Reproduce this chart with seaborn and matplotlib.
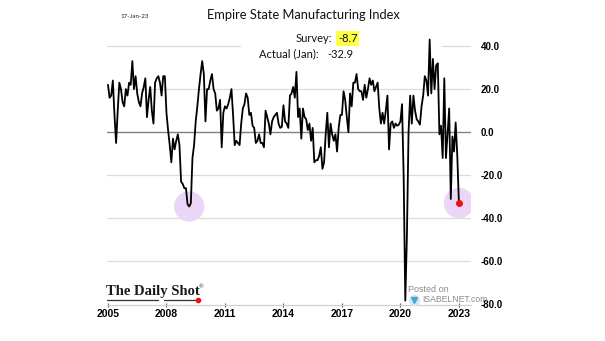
import numpy as np
import pandas as pd
import matplotlib
matplotlib.use("Agg")
import matplotlib.pyplot as plt
from matplotlib.lines import Line2D
import seaborn as sns

# ---- data (monthly, Jan 2005 .. Jan 2023) ----
vals_2005 = [22, 16, 17, 24, 8, -5, 10, 23, 20, 14, 12, 20]
vals_2006 = [17, 23, 22, 33, 20, 26, 18, 14, 12, 18, 21, 25]
vals_2007 = [7, 15, 21, 10, 4, 23, 25, 26, 23, 17, 26, 26]
vals_2008 = [9, 1, -6, -14, -3, -8, -4, -1, -6, -23, -24, -26]
vals_2009 = [-26, -33.5, -34.5, -33, -12, -6, 5, 12, 20, 27, 33, 27]
vals_2010 = [5, 20, 20, 24, 27, 20, 18, 10, 11, 15, -7, 9]
vals_2011 = [12, 11, 13, 16, 20, 8, -6, -4, -5, -6, 4, 11]
vals_2012 = [13, 18, 16, 8, 9, 3, 2, -5, -4, -1, -5, -5]
vals_2013 = [-7, 10, 7, 4, -1, 5, 7, 8, 9, 4, 2, 2.5]
vals_2014 = [12.5, 5, 4, 2, 17, 18, 21, 16, 28, 7, 11, -3]
vals_2015 = [11, 7, 6, 1, 4, -4, 2, -14, -13, -13, -11, -7]
vals_2016 = [-17, -14, -1, 9, -7, 4, -1, -4, -1, -9, 2, 8]
vals_2017 = [8, 19, 15, 7, 0, 18, 12, 23, 23, 27, 20, 19]
vals_2018 = [19, 15, 22, 16, 20, 25, 22, 24, 19, 21, 23, 11]
vals_2019 = [4, 9, 4, 10, 17, -8, 4, 5, 2, 4, 3, 3.5]
vals_2020 = [5, 13, -21, -78.2, -48, 0, 17, 4, 17, 10, 6, 5]
vals_2021 = [3.5, 12, 17, 26, 24, 17, 43, 18, 34, 20, 31, 32]
vals_2022 = [-1, 3, -12, 25, -12, -1, 11, -31, -2, -9, 4.5, -11]
vals_2023 = [-32.9]

x_ticks = [2005, 2008, 2011, 2014, 2017, 2020, 2023]
y_ticks = [-80, -60, -40, -20, 0, 20, 40]
title = "Empire State Manufacturing Index"
date_label = "17-Jan-23"
survey_value = "-8.7"
actual_value = "-32.9"

values = (vals_2005 + vals_2006 + vals_2007 + vals_2008 + vals_2009 + vals_2010 +
          vals_2011 + vals_2012 + vals_2013 + vals_2014 + vals_2015 + vals_2016 +
          vals_2017 + vals_2018 + vals_2019 + vals_2020 + vals_2021 + vals_2022 +
          vals_2023)
dates = pd.date_range("2005-01-01", periods=len(values), freq="MS")
df = pd.DataFrame({"t": dates.year + (dates.month - 1) / 12.0, "v": values})

# highlight points: 2009 trough and latest reading
gfc = df[(df.t >= 2008.5) & (df.t < 2010)]
i_low = gfc.v.idxmin()
hl = df.loc[[i_low, df.index[-1]]]

# ---- figure ----
sns.set_theme(style="white")
plt.rcParams['font.family'] = ['Lato', 'DejaVu Sans']

W, H = 605, 341
fig = plt.figure(figsize=(W / 100, H / 100), dpi=100)
fig.patch.set_facecolor("white")
L, R, B, T = 107, 471, 304.5, 28.8
ax = fig.add_axes([L / W, 1 - B / H, (R - L) / W, (B - T) / H])
ax.set_facecolor("white")

ax.set_xlim(2004.95, 2023.62)
ax.set_ylim(-80, 48)

# grid lines
for y in [-60, -40, -20, 20]:
    ax.axhline(y, color="#dcdcdc", lw=0.9, zorder=1)
ax.axhline(40, xmin=0, xmax=(240 - L) / (R - L), color="#dcdcdc", lw=0.9, zorder=1)
ax.axhline(40, xmin=(442 - L) / (R - L), xmax=1, color="#dcdcdc", lw=0.9, zorder=1)
ax.axhline(0, color="#808080", lw=1.0, zorder=1)

# highlight circles
ax.scatter(hl.t, hl.v, s=480, color="#ecd6f8", edgecolor="none", zorder=2)

sns.lineplot(data=df, x="t", y="v", ax=ax, color="black", lw=1.3, zorder=3)
ax.scatter(df.t.iloc[-1:], df.v.iloc[-1:], s=16, color="#ee1111", zorder=4)

for s in ["top", "left", "right"]:
    ax.spines[s].set_visible(False)
ax.spines["bottom"].set_color("#d0d0d0")
ax.spines["bottom"].set_linewidth(0.9)

ax.set_xlabel("")
ax.set_ylabel("")
ax.set_xticks(x_ticks)
ax.set_xticklabels([str(x) for x in x_ticks])
ax.set_yticks(y_ticks)
ax.set_yticklabels([f"{y:.1f}" for y in y_ticks])
ax.yaxis.tick_right()
ax.tick_params(axis="y", length=0, pad=7, labelsize=7, labelcolor="black")
ax.tick_params(axis="x", length=3, width=0.8, color="#555555", direction="inout",
               pad=2, labelsize=7.5, labelcolor="black", bottom=True)
for lab in ax.get_xticklabels() + ax.get_yticklabels():
    lab.set_fontweight("bold")
    lab.set_fontfamily("Liberation Sans")

# ---- texts ----
def fx(x):
    return x / W

def fy(y):
    return 1 - y / H

fig.text(fx(303), fy(15), title, ha="center", va="center", fontsize=9.3, color="#111111")
fig.text(fx(120), fy(17), date_label, ha="left", va="center", fontsize=4.5, color="#222222")

fig.text(fx(332), fy(38.5), "Survey:", ha="right", va="center", fontsize=8, color="#111111")
fig.text(fx(338), fy(38.5), survey_value, ha="left", va="center", fontsize=8, color="#111111",
         bbox=dict(boxstyle="square,pad=0.15", facecolor="#ffff44", edgecolor="none"))
fig.text(fx(319), fy(54), "Actual (Jan):", ha="right", va="center", fontsize=8, color="#111111")
fig.text(fx(327), fy(54), actual_value, ha="left", va="center", fontsize=8, color="#111111")

# The Daily Shot logo
fig.text(fx(106), fy(292), "The Daily Shot", ha="left", va="center", fontsize=10.5,
         family="Liberation Serif", fontweight="bold", color="#1a1a1a")
fig.text(fx(199), fy(287), "®", ha="left", va="center", fontsize=4.5,
         family="Liberation Serif", color="#1a1a1a")
fig.add_artist(Line2D([fx(107), fx(158)], [fy(300), fy(300)], color="#333333", lw=0.9))
fig.add_artist(Line2D([fx(164), fx(197)], [fy(300), fy(300)], color="#333333", lw=0.9))
fig.add_artist(Line2D([fx(198)], [fy(300)], marker="o", ms=3, color="#ee1111", lw=0))

# Posted on ISABELNET
fig.text(fx(408), fy(289), "Posted on", ha="left", va="center", fontsize=6.5,
         family="Liberation Sans", color="#8a8a8a")
fig.text(fx(422), fy(299.5), "ISABELNET.com", ha="left", va="center", fontsize=6.2,
         family="Liberation Sans", color="#8a8a8a")
fig.add_artist(Line2D([fx(414)], [fy(300)], marker="o", ms=7, color="#d8e6ee", lw=0))
fig.add_artist(Line2D([fx(414)], [fy(300)], marker="v", ms=4, color="#4aa3d8", lw=0))

fig.savefig("out.png", dpi=100, facecolor="white")
